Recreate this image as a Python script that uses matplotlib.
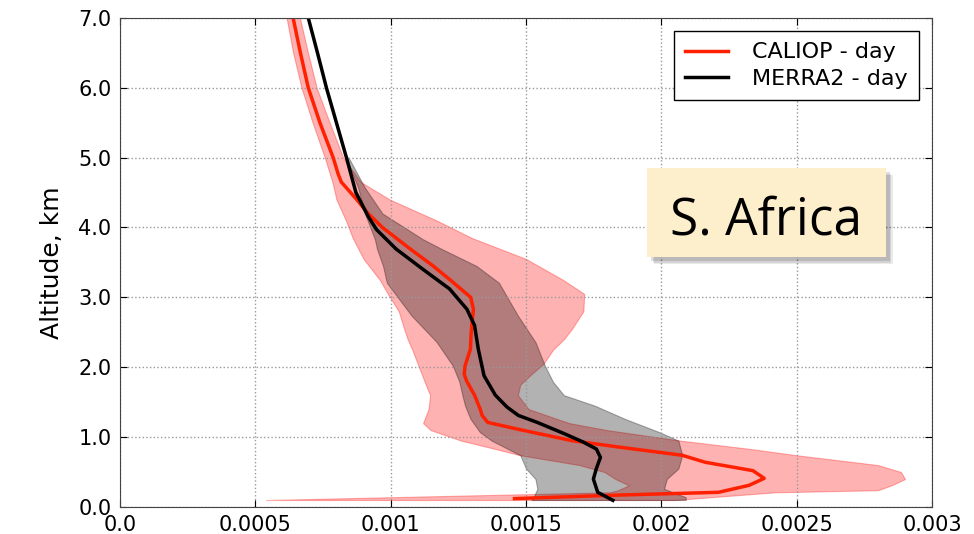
import matplotlib
matplotlib.use("Agg")
import matplotlib.pyplot as plt
import matplotlib.patheffects as pe
from matplotlib.patches import Rectangle

# CALIOP mean profile (altitude km, extinction x1e-3)
caliop_alt = [7.0, 6.5, 6.0, 5.5, 5.0, 4.77, 4.65, 4.4, 4.2, 4.0, 3.7, 3.45, 3.25,
              3.0, 2.83, 2.6, 2.45, 2.26, 2.02, 1.9, 1.81, 1.6, 1.4, 1.31, 1.21, 1.1, 0.95,
              0.86, 0.74, 0.64, 0.52, 0.41, 0.31, 0.21, 0.17, 0.12]
caliop_val = [0.64, 0.667, 0.696, 0.739, 0.788, 0.806, 0.818, 0.875, 0.917, 0.97,
              1.07, 1.157, 1.22, 1.296, 1.306, 1.30, 1.297, 1.295, 1.275, 1.272, 1.28, 1.31,
              1.331, 1.338, 1.359, 1.486, 1.669, 1.838, 2.077, 2.162, 2.338, 2.38, 2.324,
              2.211, 1.84, 1.458]

# CALIOP spread
caliop_band_alt = [7.0, 6.5, 6.0, 5.5, 5.0, 4.65, 4.4, 4.1, 3.85, 3.55, 3.25, 3.05,
                   2.8, 2.55, 2.4, 2.25, 2.05, 1.9, 1.75, 1.6, 1.4, 1.2, 1.1, 0.95, 0.83, 0.74,
                   0.6, 0.5, 0.4, 0.31, 0.24, 0.21, 0.1]
caliop_low = [0.616, 0.64, 0.671, 0.712, 0.757, 0.785, 0.80, 0.835, 0.86, 0.90, 0.96,
              0.99, 1.03, 1.05, 1.063, 1.08, 1.10, 1.115, 1.13, 1.146, 1.14, 1.12, 1.148, 1.26,
              1.387, 1.479, 1.697, 1.79, 1.83, 1.88, 1.84, 1.81, 0.54]
caliop_high = [0.665, 0.695, 0.727, 0.775, 0.825, 0.89, 0.997, 1.17, 1.30, 1.50,
               1.637, 1.715, 1.712, 1.67, 1.64, 1.60, 1.565, 1.52, 1.479, 1.47, 1.51, 1.66,
               1.80, 2.07, 2.33, 2.50, 2.80, 2.885, 2.90, 2.85, 2.80, 2.42, 2.05]

# MERRA2 mean profile
merra_alt = [7.0, 6.5, 6.0, 5.5, 5.0, 4.5, 4.16, 3.97, 3.69, 3.4, 3.12, 2.83, 2.6,
             2.26, 1.88, 1.6, 1.43, 1.31, 1.21, 1.05, 0.93, 0.83, 0.71, 0.55, 0.40, 0.21, 0.095]
merra_val = [0.696, 0.73, 0.763, 0.80, 0.837, 0.872, 0.917, 0.948, 1.021, 1.12,
             1.218, 1.282, 1.31, 1.324, 1.345, 1.387, 1.43, 1.472, 1.542, 1.641, 1.711, 1.76,
             1.775, 1.76, 1.749, 1.765, 1.821]

# MERRA2 spread
merra_band_alt = [5.0, 4.57, 4.2, 3.83, 3.69, 3.45, 3.21, 2.74, 2.36, 2.02, 1.79, 1.6, 1.45,
                  1.26, 1.07, 0.95, 0.74, 0.55, 0.4, 0.26, 0.14, 0.1]
merra_low = [0.835, 0.88, 0.905, 0.942, 0.95, 0.972, 0.986, 1.077, 1.17, 1.23, 1.254, 1.265,
             1.275, 1.295, 1.33, 1.373, 1.479, 1.5, 1.535, 1.542, 1.528, 1.52]
merra_high = [0.845, 0.905, 0.97, 1.12, 1.19, 1.317, 1.40, 1.47, 1.535, 1.57, 1.60, 1.64, 1.754,
              1.866, 1.993, 2.063, 2.077, 2.063, 2.02, 2.01, 2.09, 2.09]

xticks = [0.0, 0.0005, 0.001, 0.0015, 0.002, 0.0025, 0.003]
xtick_labels = ["0.0", "0.0005", "0.001", "0.0015", "0.002", "0.0025", "0.003"]
yticks = [0, 1, 2, 3, 4, 5, 6, 7]
region = "S. Africa"

s = 1e-3
fig = plt.figure(figsize=(9.74, 5.34), dpi=100)
ax = fig.add_axes([0.123, 0.0506, 0.834, 0.916])

ax.fill_betweenx(caliop_band_alt, [v * s for v in caliop_low], [v * s for v in caliop_high],
                 facecolor="#ff0000", edgecolor="#ff0000", alpha=0.3, linewidth=0.8)
ax.fill_betweenx(merra_band_alt, [v * s for v in merra_low], [v * s for v in merra_high],
                 facecolor="black", edgecolor="black", alpha=0.3, linewidth=0.8)
ax.plot([v * s for v in caliop_val], caliop_alt, color="#ff2000", lw=2.5, label="CALIOP - day")
ax.plot([v * s for v in merra_val], merra_alt, color="black", lw=2.5, label="MERRA2 - day")

ax.set_xlim(0, 0.003)
ax.set_ylim(0, 7)
ax.set_xticks(xticks)
ax.set_xticklabels(xtick_labels)
ax.set_yticks(yticks)
ax.set_yticklabels(["%.1f" % t for t in yticks])
ax.tick_params(direction="in", top=True, right=True, labelsize=15, length=5, pad=6)
ax.grid(True, linestyle=":", color="#999999", linewidth=1)
ax.set_ylabel("Altitude, km", fontsize=18, labelpad=10)
for sp in ax.spines.values():
    sp.set_color("#444444")

leg = ax.legend(loc="upper right", fontsize=16, fancybox=False, framealpha=1,
                edgecolor="black", handletextpad=1.1, handlelength=1.9, borderpad=0.5,
                borderaxespad=0.6, labelspacing=0.3)
leg.get_frame().set_linewidth(1.0)

# region label with a soft drop shadow
box = Rectangle((0.649, 0.511), 0.294, 0.182, transform=ax.transAxes,
                facecolor="#fdefcc", edgecolor="none", zorder=5)
box.set_path_effects([pe.SimplePatchShadow(offset=(5, -5), shadow_rgbFace="black", alpha=0.08),
                      pe.SimplePatchShadow(offset=(4, -4), shadow_rgbFace="black", alpha=0.1),
                      pe.SimplePatchShadow(offset=(3, -3), shadow_rgbFace="black", alpha=0.12),
                      pe.Normal()])
ax.add_patch(box)
ax.text(0.796, 0.558, region, transform=ax.transAxes, ha="center", va="baseline",
        fontsize=37, family="Open Sans", zorder=6)

fig.savefig("out.png", dpi=100)
